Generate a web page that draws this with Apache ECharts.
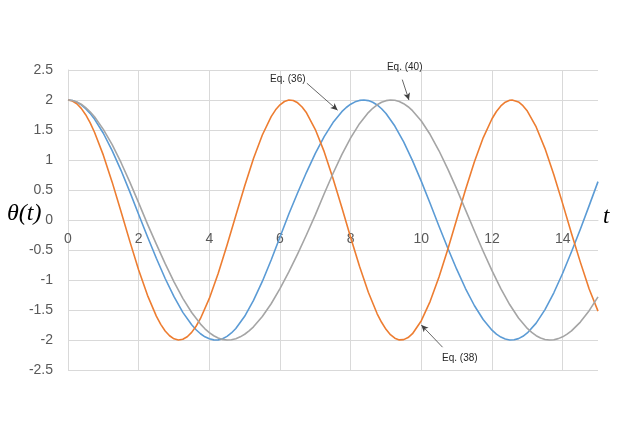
<!DOCTYPE html>
<html><head><meta charset="utf-8">
<script src="https://cdn.jsdelivr.net/npm/echarts@6/dist/echarts.min.js"></script>
<style>html,body{margin:0;padding:0;background:#fff}#c{width:623px;height:440px}</style>
</head><body><div id="c"></div>
<script>
// time samples t
const tVals = [0,0.25,0.5,0.75,1,1.25,1.5,1.75,2,2.25,2.5,2.75,3,3.25,3.5,3.75,4,4.25,4.5,4.75,5,5.25,5.5,5.75,6,6.25,6.5,6.75,7,7.25,7.5,7.75,8,8.25,8.5,8.75,9,9.25,9.5,9.75,10,10.25,10.5,10.75,11,11.25,11.5,11.75,12,12.25,12.5,12.75,13,13.25,13.5,13.75,14,14.25,14.5,14.75,15];
// Eq. (36) – blue
const eq36 = [2,1.964,1.856,1.682,1.446,1.157,0.828,0.469,0.091,-0.279,-0.638,-0.975,-1.278,-1.539,-1.747,-1.896,-1.98,-1.998,-1.94,-1.808,-1.605,-1.34,-1.024,-0.666,-0.283,0.1,0.455,0.795,1.11,1.389,1.623,1.805,1.93,1.993,1.99,1.917,1.774,1.566,1.303,0.989,0.643,0.274,-0.104,-0.47,-0.82,-1.142,-1.425,-1.659,-1.836,-1.951,-1.999,-1.977,-1.882,-1.719,-1.493,-1.213,-0.888,-0.53,-0.153,0.24,0.64];
// Eq. (38) – orange
const eq38 = [2,1.938,1.755,1.463,1.081,0.631,0.141,-0.356,-0.832,-1.256,-1.602,-1.849,-1.98,-1.988,-1.873,-1.641,-1.307,-0.892,-0.422,0.075,0.567,1.024,1.417,1.722,1.92,1.999,1.953,1.786,1.508,1.139,0.693,0.208,-0.291,-0.772,-1.204,-1.563,-1.822,-1.97,-1.994,-1.895,-1.678,-1.355,-0.951,-0.487,0.009,0.503,0.967,1.37,1.688,1.901,1.995,1.967,1.815,1.551,1.19,0.755,0.273,-0.224,-0.702,-1.15,-1.519];
// Eq. (40) – gray
const eq40 = [2,1.968,1.874,1.72,1.511,1.255,0.959,0.632,0.285,-0.068,-0.403,-0.728,-1.031,-1.305,-1.542,-1.735,-1.877,-1.967,-2,-1.978,-1.904,-1.78,-1.609,-1.396,-1.145,-0.866,-0.563,-0.246,0.085,0.437,0.775,1.089,1.368,1.605,1.79,1.92,1.989,1.995,1.939,1.822,1.649,1.424,1.154,0.849,0.518,0.169,-0.18,-0.52,-0.845,-1.144,-1.409,-1.633,-1.807,-1.928,-1.991,-1.995,-1.947,-1.848,-1.701,-1.511,-1.281];
// extra readings near the crests and troughs [t, value]
const eq36Extra = [[0.125,1.991],[0.375,1.919],[0.625,1.777],[3.625,-1.829],[3.875,-1.947],[4.125,-1.998],[4.19,-2],[4.375,-1.979],[4.625,-1.883],
  [7.875,1.875],[8.125,1.969],[8.375,2],[8.625,1.962],[8.875,1.854],[12.125,-1.902],[12.375,-1.983],[12.55,-2],[12.625,-1.997],[12.875,-1.938]];
const eq38Extra = [[0.125,1.984],[0.375,1.861],[0.625,1.622],[2.625,-1.739],[2.875,-1.929],[3.125,-2],[3.375,-1.946],[3.625,-1.771],
  [5.875,1.836],[6.125,1.975],[6.28,2],[6.375,1.992],[6.625,1.884],[8.875,-1.705],[9.125,-1.911],[9.375,-1.998],[9.42,-2],[9.625,-1.96],
  [12.125,1.809],[12.375,1.964],[12.57,2],[12.625,1.997],[12.875,1.905]];
const eq40Extra = [[0.125,1.992],[0.375,1.929],[0.625,1.804],[3.875,-1.813],[4.125,-1.929],[4.375,-1.99],[4.52,-2],[4.625,-1.995],[4.875,-1.947],[5.125,-1.848],
  [8.625,1.862],[8.875,1.962],[9.125,2],[9.375,1.975],[9.625,1.888],[13.125,-1.874],[13.375,-1.967],[13.625,-2],[13.875,-1.977],[14.125,-1.903]];

const seriesNames = ['Eq. (36)','Eq. (38)','Eq. (40)'];
const seriesColors = ['#5B9BD5','#ED7D31','#A5A5A5'];
const noteText = ['Eq. (36)','Eq. (40)','Eq. (38)'];
const noteAt   = [[6.22,2.34],[9.53,2.55],[11.09,-2.31]];
const noteFrom = [[6.76,2.28],[9.46,2.34],[10.6,-2.12]];
const noteTo   = [[7.63,1.83],[9.65,2.0],[10.0,-1.75]];

function merge(base, extra){
  return tVals.map((t,k)=>[t,base[k]]).concat(extra).sort((a,b)=>a[0]-b[0]);
}
const chart = echarts.init(document.getElementById('c'), null, {renderer:'canvas'});
const gridCol = '#d9d9d9';
const txtCol = '#595959';
const option = {
  backgroundColor:'#fff',
  animation:false,
  grid:{left:68,right:25,top:70,bottom:70},
  xAxis:{type:'value',min:0,max:15,interval:2,offset:-150,
    axisLine:{show:true,onZero:false,lineStyle:{color:gridCol,width:1}},axisTick:{show:false},
    axisLabel:{color:txtCol,fontSize:14,fontFamily:'Liberation Sans, Arial',margin:12,showMaxLabel:false},
    splitLine:{show:true,lineStyle:{color:[gridCol,gridCol,gridCol,gridCol,gridCol,gridCol,gridCol,gridCol,'rgba(0,0,0,0)'],width:1}}},
  yAxis:{type:'value',min:-2.5,max:2.5,interval:0.5,
    axisLine:{show:true,onZero:false,lineStyle:{color:gridCol}},axisTick:{show:false},
    axisLabel:{color:txtCol,fontSize:14,fontFamily:'Liberation Sans, Arial',margin:15},
    splitLine:{show:true,lineStyle:{color:gridCol,width:1}}},
  series:[[eq36,eq36Extra],[eq38,eq38Extra],[eq40,eq40Extra]].map((d,i)=>({
    name:seriesNames[i],type:'line',data:merge(d[0],d[1]),smooth:false,symbol:'none',
    lineStyle:{color:seriesColors[i],width:1.6,join:'round'},itemStyle:{color:seriesColors[i]},
    markLine: i===0 ? {silent:true,symbol:['none','arrow'],symbolSize:[5,7],
      lineStyle:{color:'#404040',width:0.8,type:'solid'},label:{show:false},
      data:noteFrom.map((f,k)=>[{coord:f},{coord:noteTo[k]}])} : undefined
  }))
};
chart.setOption(option);
const g = [];
noteText.forEach((t,k)=>{
  const p = chart.convertToPixel({gridIndex:0}, noteAt[k]);
  g.push({type:'text',x:p[0],y:p[1],style:{text:t,fill:'#262626',font:'10px "Liberation Sans", Arial',align:'center',verticalAlign:'middle'}});
});
g.push({type:'text',left:7,top:202,style:{text:'θ(t)',fill:'#000',font:'italic 24px "Liberation Serif", "Times New Roman", serif'}});
g.push({type:'text',left:603,top:205,style:{text:'t',fill:'#000',font:'italic 23px "Liberation Serif", "Times New Roman", serif'}});
chart.setOption({graphic:g});
</script></body></html>
